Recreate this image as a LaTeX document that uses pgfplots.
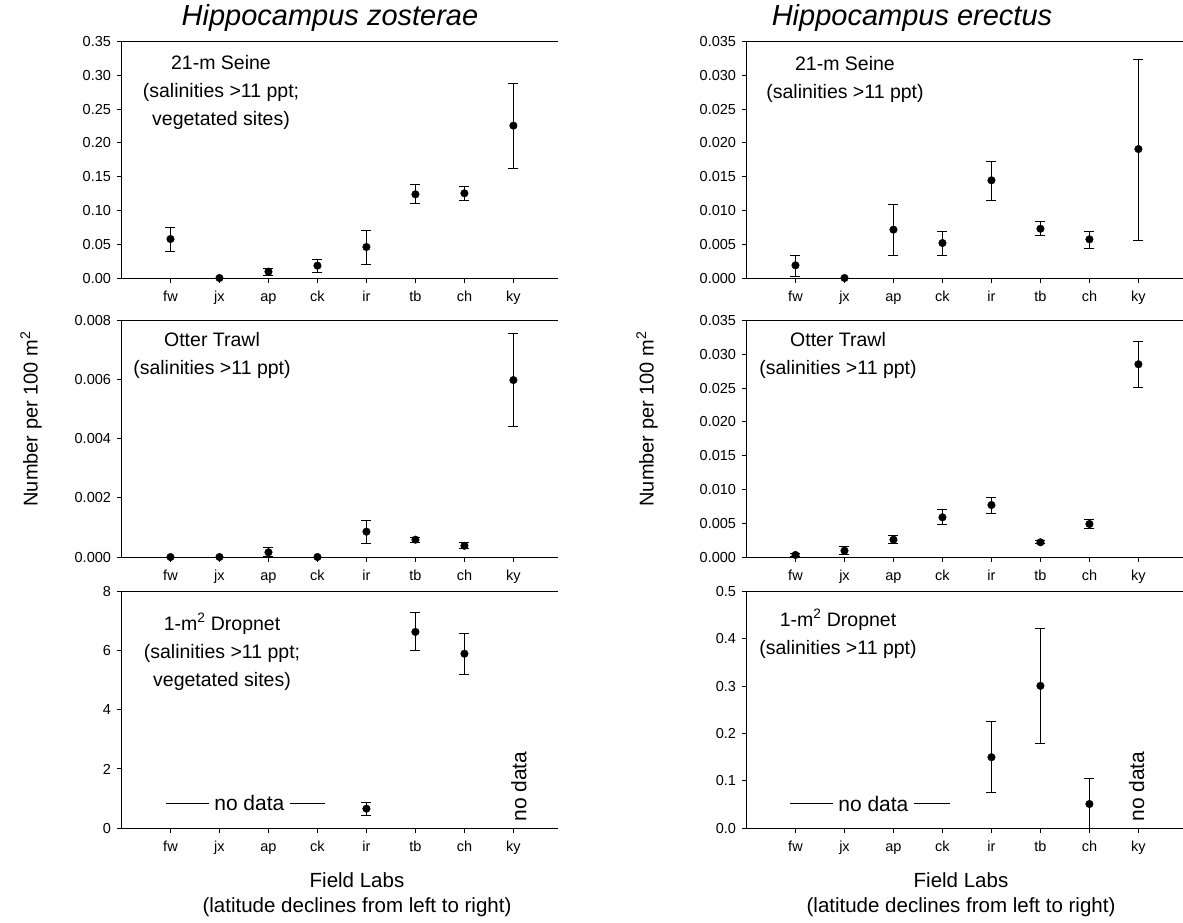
\documentclass[border=0pt]{standalone}
\usepackage{fontspec}
\setmainfont{Liberation Sans}
\usepackage{pgfplots}
\usepackage{pgfplotstable}
\pgfplotsset{compat=1.18}
\pgfplotsset{
  panel/.style={
    scale only axis, width=436pt, height=236.3pt,
    xmin=0, xmax=8.9,
    axis x line=box, axis y line=left,
    y axis line style={-},
    axis line style={line width=1pt, black},
    tick align=outside, major tick length=5pt,
    tick style={line width=1pt, black},
    xtick={1,...,8}, xticklabels={fw,jx,ap,ck,ir,tb,ch,ky},
    xtick pos=lower, ytick pos=left,
    tick label style={font=\fontsize{14.5}{17}\selectfont},
    xticklabel style={text height=10.5pt, text depth=3pt, yshift=-4pt},
    yticklabel style={xshift=-2pt},
    /pgf/number format/assume math mode=true,
    scaled y ticks=false,
    clip=false,
  },
  dots/.style={only marks, mark=*, mark size=3.8pt, black, mark options={fill=black},
    error bars/.cd, y dir=both, y explicit,
    error bar style={line width=1pt, black},
    error mark options={rotate=90, mark size=5pt, line width=1pt, black}},
}
\newcommand{\ann}{\fontsize{19.5}{28}\selectfont}
\pgfplotstableread{
x y ep em
1 0.0578 0.0172 0.0178
2 0 0 0
3 0.0094 0.0054 0.0059
4 0.0183 0.0094 0.0099
5 0.0459 0.0251 0.0266
6 0.124 0.014 0.014
7 0.1255 0.0098 0.0105
8 0.2257 0.0623 0.0632
}\zseine
\pgfplotstableread{
x y ep em
1 0.00188 0.0015 0.0017
2 0 0 0
3 0.00716 0.0037 0.0038
4 0.00518 0.0017 0.0018
5 0.01447 0.0028 0.0030
6 0.0073 0.0010 0.0010
7 0.00573 0.0011 0.0013
8 0.0191 0.0133 0.0135
}\eseine
\pgfplotstableread{
x y ep em
1 0 0 0
2 0 0 0
3 0.00016 0.00016 0.00014
4 0 0 0
5 0.000857 0.00037 0.00039
6 0.000587 0.00009 0.0001
7 0.00038 0.0001 0.0001
8 0.00599 0.00158 0.00158
}\ztrawl
\pgfplotstableread{
x y ep em
1 0.0003 0.0002 0.0002
2 0.00094 0.0006 0.0006
3 0.00257 0.0006 0.0006
4 0.00588 0.0011 0.0011
5 0.0077 0.0011 0.0012
6 0.00218 0.0002 0.0002
7 0.00489 0.0006 0.0006
8 0.02855 0.0033 0.0034
}\etrawl
\pgfplotstableread{
x y ep em
5 0.655 0.22 0.22
6 6.64 0.66 0.64
7 5.9 0.7 0.71
}\zdrop
\pgfplotstableread{
x y ep em
5 0.1498 0.0755 0.0756
6 0.3008 0.1208 0.1214
7 0.0508 0.0537 0.0508
}\edrop
\begin{document}
\begin{tikzpicture}[x=1pt,y=-1pt]
\useasboundingbox (0,0) rectangle (1183,922);
% ---------- row 1 ----------
\begin{axis}[panel, at={(121.5pt,-278pt)}, anchor=south west,
  ymin=0, ymax=0.35, ytick={0,0.05,...,0.351},
  yticklabel style={/pgf/number format/.cd, fixed, fixed zerofill, precision=2}]
\addplot[dots] table[x=x, y=y, y error plus=ep, y error minus=em]{\zseine};
\end{axis}
\begin{axis}[panel, at={(746.5pt,-278pt)}, anchor=south west,
  ymin=0, ymax=0.035, ytick={0,0.005,...,0.0351},
  yticklabel style={/pgf/number format/.cd, fixed, fixed zerofill, precision=3}]
\addplot[dots] table[x=x, y=y, y error plus=ep, y error minus=em]{\eseine};
\end{axis}
% ---------- row 2 ----------
\begin{axis}[panel, at={(121.5pt,-557pt)}, anchor=south west,
  ymin=0, ymax=0.008, ytick={0,0.002,0.004,0.006,0.008},
  yticklabel style={/pgf/number format/.cd, fixed, fixed zerofill, precision=3}]
\addplot[dots] table[x=x, y=y, y error plus=ep, y error minus=em]{\ztrawl};
\end{axis}
\begin{axis}[panel, at={(746.5pt,-557pt)}, anchor=south west,
  ymin=0, ymax=0.035, ytick={0,0.005,...,0.0351},
  yticklabel style={/pgf/number format/.cd, fixed, fixed zerofill, precision=3}]
\addplot[dots] table[x=x, y=y, y error plus=ep, y error minus=em]{\etrawl};
\end{axis}
% ---------- row 3 ----------
\begin{axis}[panel, at={(121.5pt,-828pt)}, anchor=south west,
  ymin=0, ymax=8, ytick={0,2,4,6,8}]
\addplot[dots] table[x=x, y=y, y error plus=ep, y error minus=em]{\zdrop};
\draw[line width=1pt] (axis cs:0.91,0.84) -- (axis cs:1.78,0.84);
\draw[line width=1pt] (axis cs:3.43,0.84) -- (axis cs:4.16,0.84);
\node[font=\fontsize{21}{25}\selectfont] at (axis cs:2.61,0.84) {no data};
\node[font=\fontsize{21}{25}\selectfont, rotate=90, anchor=north west, inner sep=0pt] at (axis cs:7.95,0.21) {no data};
\end{axis}
\begin{axis}[panel, at={(746.5pt,-828pt)}, anchor=south west,
  ymin=0, ymax=0.5, ytick={0,0.1,...,0.51},
  yticklabel style={/pgf/number format/.cd, fixed, fixed zerofill, precision=1}]
\addplot[dots] table[x=x, y=y, y error plus=ep, y error minus=em]{\edrop};
\draw[line width=1pt] (axis cs:0.88,0.051) -- (axis cs:1.76,0.051);
\draw[line width=1pt] (axis cs:3.41,0.051) -- (axis cs:4.16,0.051);
\node[font=\fontsize{21}{25}\selectfont] at (axis cs:2.59,0.051) {no data};
\node[font=\fontsize{21}{25}\selectfont, rotate=90, anchor=north west, inner sep=0pt] at (axis cs:7.8,0.013) {no data};
\end{axis}
% ---------- annotations ----------
\node[align=center, font=\ann] at (221,92.7) {21-m Seine\\(salinities >11 ppt;\\vegetated sites)};
\node[align=center, font=\ann] at (845,79) {21-m Seine\\(salinities >11 ppt)};
\node[align=center, font=\ann] at (212,355) {Otter Trawl\\(salinities >11 ppt)};
\node[align=center, font=\ann] at (838,355.7) {Otter Trawl\\(salinities >11 ppt)};
\node[align=center, font=\ann] at (222,651.7) {1-m\textsuperscript{2} Dropnet\\(salinities >11 ppt;\\vegetated sites)};
\node[align=center, font=\ann] at (838,634) {1-m\textsuperscript{2} Dropnet\\(salinities >11 ppt)};
% ---------- titles ----------
\node[font=\fontsize{29}{32}\selectfont\itshape] at (330,18) {Hippocampus zosterae};
\node[font=\fontsize{29}{32}\selectfont\itshape] at (912,18) {Hippocampus erectus};
% ---------- axis labels ----------
\node[align=center, font=\fontsize{20.5}{25}\selectfont] at (357,895) {Field Labs\\(latitude declines from left to right)};
\node[align=center, font=\fontsize{20.5}{25}\selectfont] at (961,895) {Field Labs\\(latitude declines from left to right)};
\node[rotate=90, font=\fontsize{20}{24}\selectfont] at (31,419) {Number per 100 m\textsuperscript{2}};
\node[rotate=90, font=\fontsize{20}{24}\selectfont] at (647,419) {Number per 100 m\textsuperscript{2}};
\end{tikzpicture}
\end{document}
